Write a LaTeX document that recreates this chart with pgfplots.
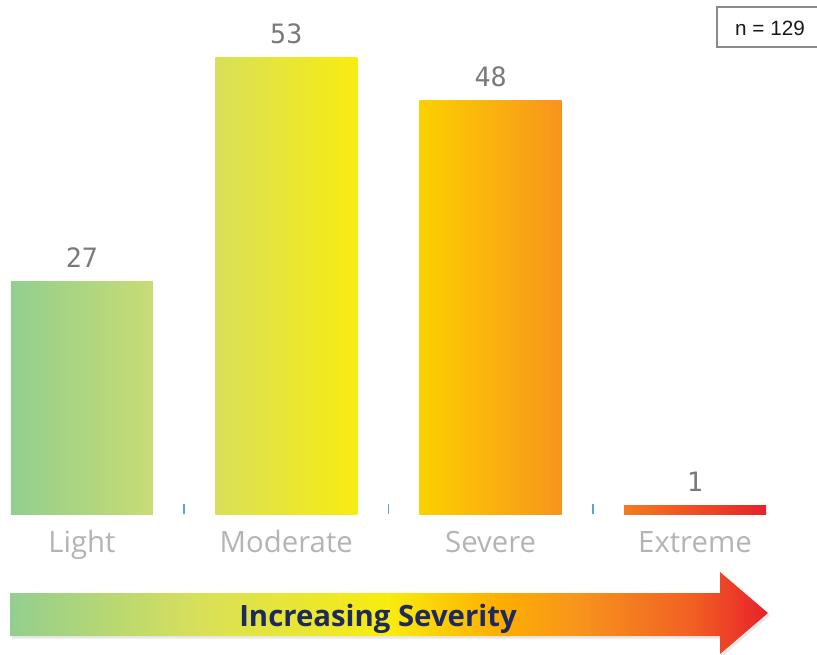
\documentclass[border=0pt]{standalone}
\usepackage{pgfplots}
\pgfplotsset{compat=1.18}
\usepackage{fontspec}
\setmainfont{Open Sans}
\newfontfamily\numfont{DejaVu Sans Mono}
\newfontfamily\boxfont{Liberation Sans}
\usetikzlibrary{shadows}

% bar gradients (left / right end of each bar)
\definecolor{lightL}{HTML}{93CE8F}
\definecolor{lightR}{HTML}{C8DC74}
\definecolor{modL}{HTML}{D8E05A}
\definecolor{modR}{HTML}{F8EC10}
\definecolor{sevL}{HTML}{FDD000}
\definecolor{sevR}{HTML}{F7941D}
\definecolor{extL}{HTML}{F47B20}
\definecolor{extR}{HTML}{E8202A}
\definecolor{labelgray}{HTML}{B4B4B4}
\definecolor{numgray}{HTML}{7A7A7A}
\definecolor{tickblue}{HTML}{5AA5D8}
\definecolor{titlenavy}{HTML}{1F2A5C}
\definecolor{boxgray}{HTML}{8A8A8A}

% gradient of the severity arrow (middle 25bp..75bp spans the path)
\pgfdeclarehorizontalshading{severity}{100bp}{%
  color(0bp)=(lightL); color(25bp)=(lightL);
  color(37.5bp)=(modL); color(50bp)=(modR);
  color(57bp)=(sevL!60!orange); color(62.5bp)=(sevR);
  color(70bp)=(extL!70!extR); color(75bp)=(extR); color(100bp)=(extR)}

\begin{document}
\begin{tikzpicture}
\begin{axis}[
  scale only axis,
  width=612.75pt, height=385.5pt,
  xmin=-0.4008, xmax=3.597,
  ymin=0, ymax=59.63,
  axis line style={draw=none},
  ytick=\empty,
  xtick={0,1,2,3},
  xticklabels={Light,Moderate,Severe,Extreme},
  major tick length=0pt,
  minor xtick={0.5,1.5,2.5},
  minor tick length=7.5pt,
  minor tick style={draw=tickblue, line width=1.4pt},
  tick pos=bottom,
  tick align=inside,
  xticklabel style={font=\fontsize{22}{26}\selectfont, text=labelgray,
    anchor=base, yshift=-28.5pt},
  clip=false,
  /pgf/number format/assume math mode=true,
  nodes near coords,
  every node near coord/.append style={font=\numfont\fontsize{20}{24}\selectfont,
    text=numgray, anchor=base, yshift=10.5pt},
  bar width=106.5pt,
]
\addplot[ybar, bar shift=0pt, draw=none, left color=lightL, right color=lightR]
  coordinates {(0,27)};
\addplot[ybar, bar shift=0pt, draw=none, left color=modL, right color=modR]
  coordinates {(1,53)};
\addplot[ybar, bar shift=0pt, draw=none, left color=sevL, right color=sevR]
  coordinates {(2,48)};
\addplot[ybar, bar shift=0pt, draw=none, left color=extL, right color=extR]
  coordinates {(3,1)};
\coordinate (TL) at (rel axis cs:0,1);
\end{axis}

% arrow, caption and sample-size box, in pixel units from the top left
\begin{scope}[shift={(TL)}, x=0.75pt, y=-0.75pt]
  \shade[shading=severity,
    drop shadow={opacity=0.18, shadow xshift=1.5pt, shadow yshift=-2pt}]
    (10,593) -- (720,593) -- (720,572) -- (768,613) -- (720,654)
    -- (720,636) -- (10,636) -- cycle;
  \node[anchor=base, text=titlenavy, font=\bfseries\fontsize{22}{26}\selectfont]
    at (378,626) {Increasing Severity};
  \draw[boxgray, line width=0.9pt, fill=white] (717,7) rectangle (830,47);
  \node[font=\boxfont\fontsize{15.5}{18}\selectfont, text=black!90]
    at (770,28) {n = 129};
\end{scope}

\pgfresetboundingbox
\path[use as bounding box] (TL) rectangle ++(612.75pt,-490.5pt);
\end{tikzpicture}
\end{document}
